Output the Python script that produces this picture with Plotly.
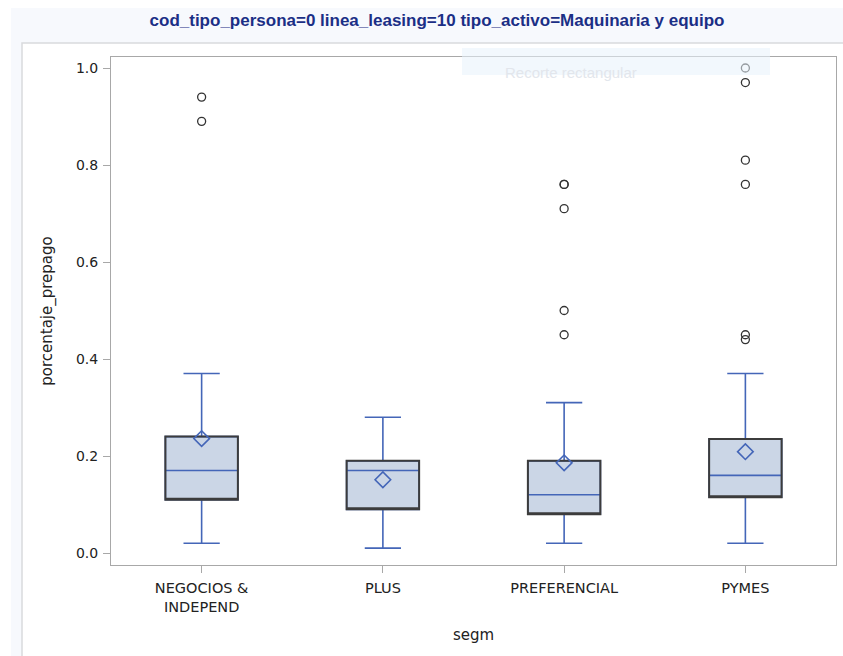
import plotly.graph_objects as go

categories = ["NEGOCIOS & INDEPEND", "PLUS", "PREFERENCIAL", "PYMES"]
tick_text = ["NEGOCIOS &<br>INDEPEND", "PLUS", "PREFERENCIAL", "PYMES"]
lower_whisker = [0.02, 0.01, 0.02, 0.02]
q1 = [0.11, 0.09, 0.08, 0.115]
median = [0.17, 0.17, 0.12, 0.16]
q3 = [0.24, 0.19, 0.19, 0.235]
upper_whisker = [0.37, 0.28, 0.31, 0.37]
means = [0.236, 0.151, 0.186, 0.209]
outliers = {
    "NEGOCIOS & INDEPEND": [0.89, 0.94],
    "PLUS": [],
    "PREFERENCIAL": [0.45, 0.50, 0.71, 0.76, 0.76],
    "PYMES": [0.44, 0.45, 0.76, 0.81, 0.97, 1.0],
}

BLUE = "#4466b8"
DARK = "#3c3c3c"
FILL = "#cbd6e6"
GRID = "#a8a8a8"
TXT = "#222222"
AXFONT = "DejaVu Sans, Liberation Sans, Arial, sans-serif"

# pixel -> paper helpers (plot area spans x 111..836, y 57..565)
def px(x):
    return (x - 111) / 725


def py(y):
    return (565 - y) / 508


fig = go.Figure()

# blue whiskers + median + filled box
fig.add_trace(go.Box(
    x=categories, q1=q1, median=median, q3=q3,
    lowerfence=lower_whisker, upperfence=upper_whisker,
    fillcolor=FILL, line=dict(color=BLUE, width=1.6),
    width=0.4, whiskerwidth=0.5, boxpoints=False,
    showlegend=False, hoverinfo="skip",
))
# dark outline of the box
fig.add_trace(go.Box(
    x=categories, q1=q1, median=q1, q3=q3,
    lowerfence=q1, upperfence=q3,
    fillcolor="rgba(0,0,0,0)", line=dict(color=DARK, width=2),
    width=0.4, whiskerwidth=0.0, boxpoints=False,
    showlegend=False, hoverinfo="skip",
))
# means
fig.add_trace(go.Scatter(
    x=categories, y=means, mode="markers",
    marker=dict(symbol="diamond-open", size=12, color=BLUE, line=dict(width=1.6, color=BLUE)),
    showlegend=False,
))
# outliers
ox, oy = [], []
for c in categories:
    for v in outliers[c]:
        ox.append(c)
        oy.append(v)
fig.add_trace(go.Scatter(
    x=ox, y=oy, mode="markers",
    marker=dict(symbol="circle-open", size=8, color="#333333", line=dict(width=1.3, color="#333333")),
    showlegend=False,
))

fig.update_layout(
    width=843, height=656,
    margin=dict(l=111, r=7, t=57, b=91),
    paper_bgcolor="white",
    plot_bgcolor="white",
    boxmode="overlay",
    font=dict(family=AXFONT, size=14, color=TXT),
    title=dict(
        text="<b>cod_tipo_persona=0 linea_leasing=10 tipo_activo=Maquinaria y equipo</b>",
        x=px(437), xref="paper", xanchor="center",
        y=1 - 20 / 656, yref="container", yanchor="middle",
        font=dict(family="Liberation Sans, Arial, sans-serif", size=17, color="#1b2f86"),
    ),
    shapes=[
        dict(type="rect", xref="paper", yref="paper", layer="below",
             x0=px(11), x1=px(850), y0=py(660), y1=py(8),
             fillcolor="#f7f9fd", line=dict(width=0)),
        dict(type="rect", xref="paper", yref="paper", layer="below",
             x0=px(22), x1=px(850), y0=py(660), y1=py(43),
             fillcolor="white", line=dict(color="#d9dadd", width=1.5)),
        dict(type="rect", xref="paper", yref="paper", layer="above",
             x0=px(462), x1=px(770), y0=py(75), y1=py(48),
             fillcolor="rgba(232,242,252,0.55)", line=dict(width=0)),
    ],
    annotations=[
        dict(text="Recorte rectangular", xref="paper", yref="paper",
             x=px(571), y=py(62), showarrow=False,
             font=dict(family="Liberation Sans, Arial, sans-serif", size=15, color="#e2e6ec")),
    ],
)

fig.update_xaxes(
    type="category", categoryorder="array", categoryarray=categories,
    tickvals=categories, ticktext=tick_text,
    range=[-0.5, 3.5],
    showline=True, linecolor=GRID, linewidth=1, mirror=True,
    ticks="outside", tickcolor=GRID, ticklen=7, showgrid=False,
    ticklabelstandoff=3,
    tickfont=dict(size=14.5, color=TXT),
    title=dict(text="segm", font=dict(size=15, color=TXT), standoff=15),
)
fig.update_yaxes(
    range=[-0.0247, 1.0227],
    tickvals=[0.0, 0.2, 0.4, 0.6, 0.8, 1.0], tickformat=".1f",
    showline=True, linecolor=GRID, linewidth=1, mirror=True,
    ticks="outside", tickcolor=GRID, ticklen=7, showgrid=False, zeroline=False,
    ticklabelstandoff=2,
    tickfont=dict(size=14, color=TXT),
    title=dict(text="porcentaje_prepago", font=dict(size=15, color=TXT), standoff=19),
)

fig.write_html("out.html")
